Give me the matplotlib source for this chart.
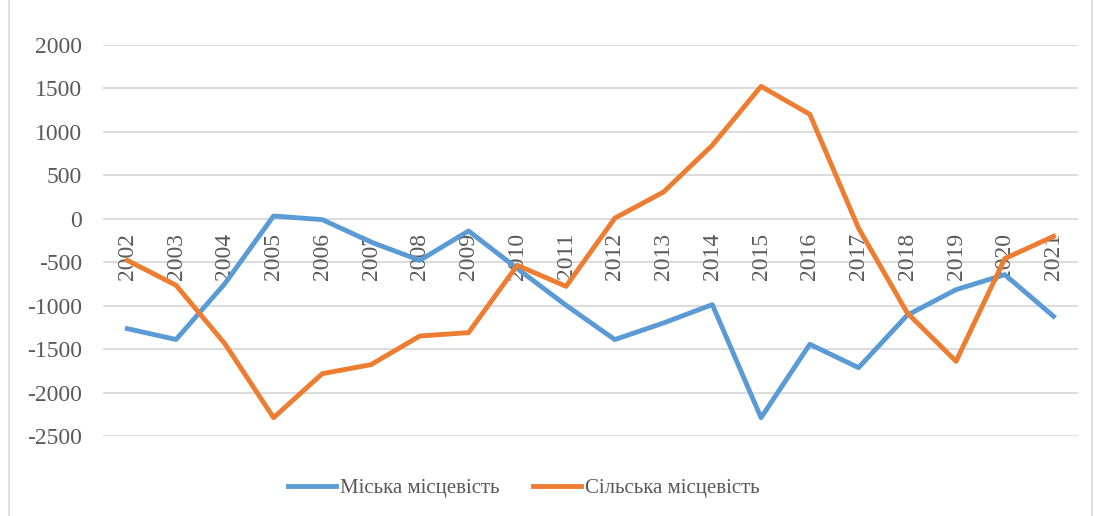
import matplotlib
matplotlib.use('Agg')
import matplotlib.pyplot as plt
from matplotlib.patches import Rectangle

years = [str(y) for y in range(2002, 2022)]
urban = [-1265, -1390, -748, 30, -12, -270, -480, -142, -575, -997,
         -1391, -1200, -989, -2289, -1445, -1714, -1110, -817, -644, -1124]
rural = [-480, -767, -1438, -2289, -1783, -1679, -1350, -1311, -537, -779,
         5, 306, 843, 1521, 1199, -110, -1085, -1641, -460, -204]
yticks = [2000, 1500, 1000, 500, 0, -500, -1000, -1500, -2000, -2500]

plt.rcParams['font.family'] = ['Liberation Serif', 'DejaVu Serif']
TXT = '#595959'
GRID = '#D9D9D9'
FS = 17

fig = plt.figure(figsize=(10.94, 5.16), dpi=100)
fig.patches.append(Rectangle((0.008, -0.01), 0.99, 1.05, transform=fig.transFigure,
                             fill=False, edgecolor=GRID, lw=1.2))
ax = fig.add_axes([0.0941, 0.155, 0.8912, 0.7584])

x = list(range(len(years)))
ax.plot(x, urban, color='#5B9BD5', lw=3.5, solid_joinstyle='round', label='Міська місцевість', zorder=3)
ax.plot(x, rural, color='#ED7D31', lw=3.5, solid_joinstyle='round', label='Сільська місцевість', zorder=3)

ax.set_xlim(-0.5, len(years) - 0.5)
ax.set_ylim(-2500, 2000)
ax.set_yticks(yticks)
ax.set_yticklabels([str(v) for v in yticks])
ax.tick_params(axis='y', length=0, pad=15, labelsize=FS, labelcolor=TXT)
ax.set_xticks([])
for s in ax.spines.values():
    s.set_visible(False)
for v in yticks:
    ax.axhline(v, color=GRID, lw=1.3, zorder=1)

# category labels sit just under the zero line
for i, yr in enumerate(years):
    ax.text(i, -160, yr, rotation=90, ha='center', va='top', fontsize=FS, color=TXT, zorder=2)

fig.legend(loc='center', bbox_to_anchor=(0.479, 0.054), ncol=2, frameon=False,
           fontsize=15, labelcolor=TXT, handlelength=2.3, handletextpad=0.2,
           columnspacing=1.6)

fig.savefig('out.png', dpi=100)
